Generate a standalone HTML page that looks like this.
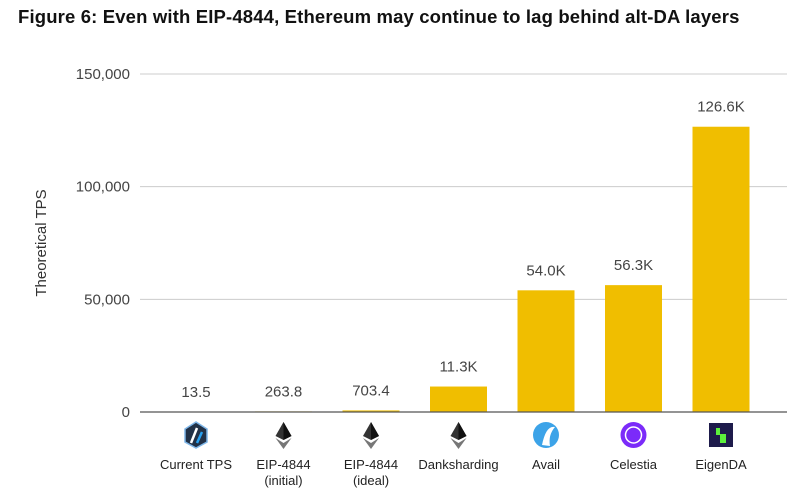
<!DOCTYPE html>
<html><head><meta charset="utf-8"><style>
body{margin:0;background:#fff;width:805px;height:495px;overflow:hidden;font-family:"Liberation Sans",sans-serif}
#title{position:absolute;left:18px;top:6px;font-size:18.5px;font-weight:bold;color:#111;margin:0;letter-spacing:0.15px;white-space:nowrap}
svg{position:absolute;left:0;top:0}
</style></head><body>
<h1 id="title">Figure 6: Even with EIP-4844, Ethereum may continue to lag behind alt-DA layers</h1>
<svg id="chart" width="805" height="495"></svg>
<script>
const categories=["Current TPS","EIP-4844|(initial)","EIP-4844|(ideal)","Danksharding","Avail","Celestia","EigenDA"];
const values=[13.5,263.8,703.4,11300,54000,56300,126600];
const valueLabels=["13.5","263.8","703.4","11.3K","54.0K","56.3K","126.6K"];
const yTicks=[0,50000,100000,150000];
const yTickLabels=["0","50,000","100,000","150,000"];
const icons=["arb","eth","eth","eth","avail","celestia","eigen"];

const NS="http://www.w3.org/2000/svg";
const svg=document.getElementById('chart');
const y0=412,yTop=74,yMax=150000;
const y=v=>y0-(v/yMax)*(y0-yTop);
const step=87.5,bw=57;
const xc=i=>196+i*step;
function el(t,a,p){const e=document.createElementNS(NS,t);for(const k in a)e.setAttribute(k,a[k]);(p||svg).appendChild(e);return e;}
yTicks.forEach((t,i)=>{
  if(t>0){const g=el('line',{x1:140,x2:787,y1:y(t),y2:y(t),stroke:'#cccccc','stroke-width':1});
  
  }
  const tx=el('text',{x:130,y:y(t)+5,'text-anchor':'end','font-size':15,fill:'#444'});
  tx.textContent=yTickLabels[i];
  
  
});
const yt=el('text',{x:46,y:243,'text-anchor':'middle','font-size':15,fill:'#333',transform:'rotate(-90 46 243)'});
yt.textContent='Theoretical TPS';


values.forEach((v,i)=>{
  const top=y(v);
  const b=el('rect',{x:xc(i)-bw/2,y:top,width:bw,height:Math.max(y0-top,0),fill:'#f0be00'});
  
  
  const l=el('text',{x:xc(i),y:Math.min(top,y0)-15,'text-anchor':'middle','font-size':15,fill:'#444'});
  l.textContent=valueLabels[i];
  
  
  const parts=categories[i].split('|');
  parts.forEach((p,j)=>{
    const c=el('text',{x:xc(i),y:469+j*16,'text-anchor':'middle','font-size':13,fill:'#222'});
    c.textContent=p;
    
    
  });
  const g=el('g',{transform:`translate(${xc(i)},435)`});
  
  
  const k=icons[i];
  if(k==='eth'){
    el('polygon',{points:'0,-13 -8,1 0,5 8,1',fill:'#333'},g);
    el('polygon',{points:'0,-13 0,5 8,1',fill:'#111'},g);
    el('polygon',{points:'-8,3 0,14 8,3 0,8',fill:'#777'},g);
  }else if(k==='arb'){
    el('polygon',{points:'0,-13 11,-6 11,7 0,13 -11,7 -11,-6',fill:'#213147',stroke:'#7fb6e8','stroke-width':1.5},g);
    el('line',{x1:-5,y1:8,x2:1,y2:-7,stroke:'#fff','stroke-width':2.5},g);
    el('line',{x1:1,y1:8,x2:6,y2:-3,stroke:'#28a0f0','stroke-width':2.5},g);
  }else if(k==='avail'){
    el('circle',{r:13,fill:'#3ca3e8'},g);
    el('path',{d:'M-4,10 Q0,-10 9,-8 Q2,0 4,11 Z',fill:'#fff'},g);
  }else if(k==='celestia'){
    el('circle',{r:13,fill:'#7b2bf9'},g);
    el('circle',{r:8,fill:'none',stroke:'#fff','stroke-width':1.5},g);
  }else{
    el('rect',{x:-12,y:-12,width:24,height:24,fill:'#1e1b4b'},g);
    el('rect',{x:-5,y:-7,width:4,height:7,fill:'#5cf03c'},g);
    el('rect',{x:-1,y:-1,width:6,height:9,fill:'#5cf03c'},g);
  }
});
const ax=el('line',{x1:140,x2:787,y1:y0,y2:y0,stroke:'#555','stroke-width':1.2});


</script>
</body></html>
